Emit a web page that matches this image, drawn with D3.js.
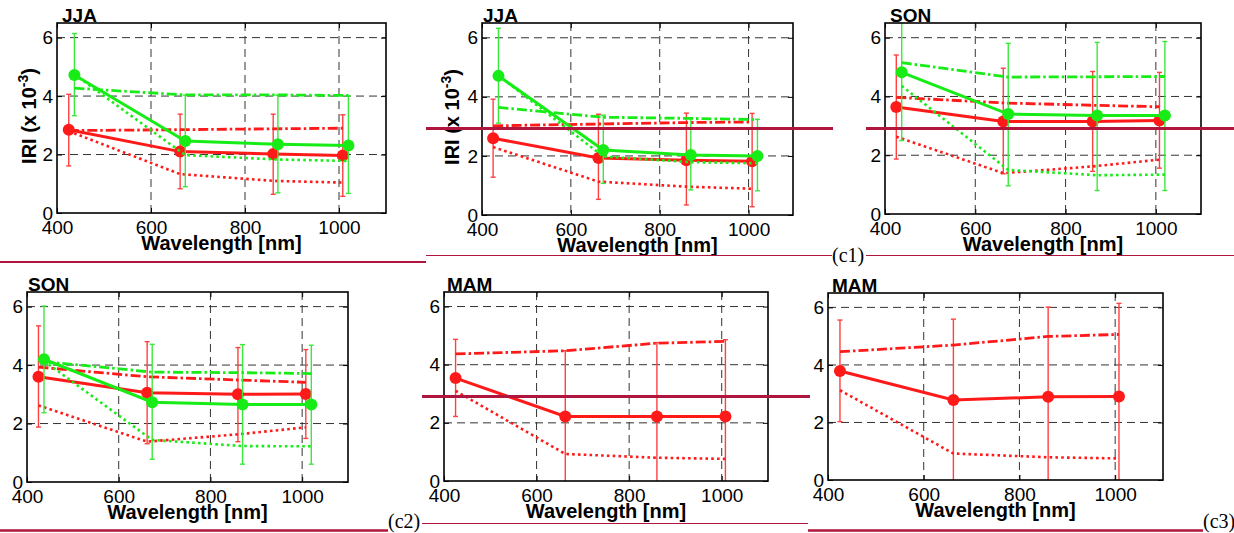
<!DOCTYPE html>
<html>
<head>
<meta charset="utf-8">
<script src="https://cdn.jsdelivr.net/npm/d3@7"></script>
<style>
html,body{margin:0;padding:0;background:#fff;}
svg{display:block;}
</style>
</head>
<body>
<svg id="chart" width="1234" height="533"></svg>
<script>
// ---------------- DATA ----------------
const panelTitles = ["JJA", "JJA", "SON", "SON", "MAM", "MAM"];
const xTicks = [400, 600, 800, 1000];
const yTicks = [0, 2, 4, 6];
const xDomain = [400, 1100];
const yDomain = [0, 6.5];
const wlRed = [425, 662, 860, 1008];
const wlGreen = [437, 673, 870, 1020];
const caseLabels = ["(c1)", "(c2)", "(c3)"];
const xLabel = "Wavelength [nm]";

// Panel 1 (JJA)
const p1RedMean = [2.85, 2.10, 2.02, 1.97];
const p1RedDashDot = [2.82, 2.85, 2.88, 2.90];
const p1RedDotted = [2.80, 1.33, 1.10, 1.04];
const p1RedLow = [1.61, 0.83, 0.64, 0.57];
const p1RedHigh = [4.06, 3.38, 3.38, 3.36];
const p1GreenMean = [4.72, 2.46, 2.35, 2.31];
const p1GreenDashDot = [4.27, 4.04, 4.04, 4.02];
const p1GreenDotted = [4.74, 1.98, 1.83, 1.78];
const p1GreenLow = [3.33, 0.90, 0.69, 0.67];
const p1GreenHigh = [6.14, 4.03, 4.03, 4.01];

// Panel 2 (JJA)
const p2RedMean = [2.60, 1.93, 1.85, 1.82];
const p2RedDashDot = [3.02, 3.08, 3.13, 3.15];
const p2RedDotted = [2.30, 1.13, 0.96, 0.89];
const p2RedLow = [1.28, 0.53, 0.34, 0.28];
const p2RedHigh = [3.92, 3.41, 3.45, 3.44];
const p2GreenMean = [4.71, 2.20, 2.03, 2.00];
const p2GreenDashDot = [3.64, 3.31, 3.27, 3.23];
const p2GreenDotted = [4.72, 1.98, 1.79, 1.75];
const p2GreenLow = [3.11, 1.07, 0.85, 0.82];
const p2GreenHigh = [6.32, 3.38, 3.27, 3.24];

// Panel 3 (SON)
const p3RedMean = [3.64, 3.15, 3.15, 3.18];
const p3RedDashDot = [3.97, 3.78, 3.70, 3.65];
const p3RedDotted = [2.63, 1.39, 1.62, 1.85];
const p3RedLow = [1.87, 1.37, 1.45, 1.56];
const p3RedHigh = [5.41, 4.96, 4.85, 4.82];
const p3GreenMean = [4.82, 3.40, 3.35, 3.35];
const p3GreenDashDot = [5.15, 4.66, 4.67, 4.68];
const p3GreenDotted = [4.36, 1.50, 1.32, 1.34];
const p3GreenLow = [2.50, 0.96, 0.80, 0.80];
const p3GreenHigh = [7.10, 5.81, 5.84, 5.87];

// Panel 4 (SON)
const p4RedMean = [3.60, 3.05, 3.00, 3.01];
const p4RedDashDot = [3.93, 3.60, 3.49, 3.41];
const p4RedDotted = [2.62, 1.38, 1.63, 1.87];
const p4RedLow = [1.88, 1.31, 1.38, 1.49];
const p4RedHigh = [5.34, 4.80, 4.60, 4.53];
const p4GreenMean = [4.20, 2.73, 2.65, 2.65];
const p4GreenDashDot = [4.12, 3.76, 3.74, 3.71];
const p4GreenDotted = [4.14, 1.44, 1.23, 1.22];
const p4GreenLow = [2.37, 0.78, 0.61, 0.61];
const p4GreenHigh = [6.02, 4.71, 4.70, 4.68];

// Panel 5 (MAM)
const p5RedMean = [3.54, 2.22, 2.22, 2.22];
const p5RedDashDot = [4.37, 4.48, 4.74, 4.80];
const p5RedDotted = [3.10, 0.93, 0.80, 0.76];
const p5RedLow = [2.22, -0.04, -0.32, -0.42];
const p5RedHigh = [4.87, 4.48, 4.76, 4.86];

// Panel 6 (MAM)
const p6RedMean = [3.79, 2.78, 2.89, 2.90];
const p6RedDashDot = [4.46, 4.69, 4.99, 5.06];
const p6RedDotted = [3.12, 0.92, 0.79, 0.75];
const p6RedLow = [2.03, -0.03, -0.23, -0.34];
const p6RedHigh = [5.56, 5.59, 6.01, 6.14];

// ---------------- BUILD ----------------
function series(mean, dashdot, dotted, low, high) {
  return {mean, dashdot, dotted, low, high};
}
const panelData = [
  {red: series(p1RedMean, p1RedDashDot, p1RedDotted, p1RedLow, p1RedHigh),
   green: series(p1GreenMean, p1GreenDashDot, p1GreenDotted, p1GreenLow, p1GreenHigh)},
  {red: series(p2RedMean, p2RedDashDot, p2RedDotted, p2RedLow, p2RedHigh),
   green: series(p2GreenMean, p2GreenDashDot, p2GreenDotted, p2GreenLow, p2GreenHigh)},
  {red: series(p3RedMean, p3RedDashDot, p3RedDotted, p3RedLow, p3RedHigh),
   green: series(p3GreenMean, p3GreenDashDot, p3GreenDotted, p3GreenLow, p3GreenHigh)},
  {red: series(p4RedMean, p4RedDashDot, p4RedDotted, p4RedLow, p4RedHigh),
   green: series(p4GreenMean, p4GreenDashDot, p4GreenDotted, p4GreenLow, p4GreenHigh)},
  {red: series(p5RedMean, p5RedDashDot, p5RedDotted, p5RedLow, p5RedHigh), green: null},
  {red: series(p6RedMean, p6RedDashDot, p6RedDotted, p6RedLow, p6RedHigh), green: null}
];

// layout (pixel boxes of each axes)
const layout = [
  {L: 57,  R: 386,  T: 23,  B: 213, tdx: 5, ylab: 36},
  {L: 482, R: 793,  T: 23,  B: 215, tdx: 1, ylab: 459},
  {L: 885, R: 1201, T: 23,  B: 214, tdx: 5, ylab: null},
  {L: 27,  R: 348,  T: 292, B: 482, tdx: 1, ylab: null},
  {L: 444, R: 768,  T: 292, B: 481, tdx: 3, ylab: null},
  {L: 828, R: 1163, T: 293, B: 480, tdx: 4, ylab: null}
];

const RED = "#ff1a1a", RED_ERR = "#ff4040";
const GREEN = "#17ec17", GREEN_ERR = "#3be83b";
const CRIMSON = "#b0153d";
const SANS = "'Liberation Sans', Arial, Helvetica, sans-serif";
const SERIF = "'Liberation Serif', 'Times New Roman', serif";

const svg = d3.select("#chart");
svg.append("rect").attr("width", 1234).attr("height", 533).attr("fill", "#fff");

panelData.forEach((pd, i) => {
  const lay = layout[i];
  const x = d3.scaleLinear().domain(xDomain).range([lay.L, lay.R]);
  const y = d3.scaleLinear().domain(yDomain).range([lay.B, lay.T]);
  const g = svg.append("g");
  const clipId = "clip" + i;
  g.append("clipPath").attr("id", clipId).append("rect")
    .attr("x", lay.L).attr("y", lay.T).attr("width", lay.R - lay.L).attr("height", lay.B - lay.T);

  g.append("rect").attr("x", lay.L).attr("y", lay.T).attr("width", lay.R - lay.L)
    .attr("height", lay.B - lay.T).attr("fill", "#fff");

  // grid
  const grid = g.append("g").attr("stroke", "#333").attr("stroke-width", 1)
    .attr("stroke-dasharray", "8,5").attr("fill", "none");
  xTicks.filter(t => t > xDomain[0]).forEach(t => {
    grid.append("line").attr("x1", x(t)).attr("x2", x(t)).attr("y1", lay.T).attr("y2", lay.B);
  });
  yTicks.filter(t => t > yDomain[0]).forEach(t => {
    grid.append("line").attr("x1", lay.L).attr("x2", lay.R).attr("y1", y(t)).attr("y2", y(t));
  });

  // axes via d3 (inward ticks)
  const xAxis = d3.axisBottom(x).tickValues(xTicks).tickSize(-5).tickPadding(7).tickFormat(d3.format("d"));
  const yAxis = d3.axisLeft(y).tickValues(yTicks).tickSize(-5).tickPadding(4).tickFormat(d3.format("d"));
  const xa = g.append("g").attr("transform", `translate(0,${lay.B})`).call(xAxis);
  const ya = g.append("g").attr("transform", `translate(${lay.L},0)`).call(yAxis);
  [xa, ya].forEach(a => {
    a.select(".domain").remove();
    a.selectAll(".tick line").attr("stroke", "#000").attr("stroke-width", 1);
    a.selectAll(".tick text").attr("font-family", SANS).attr("font-size", 19).attr("fill", "#000");
  });
  xa.selectAll(".tick text").attr("dy", null).attr("y", 20.5);
  const xa2 = g.append("g").attr("transform", `translate(0,${lay.T})`)
    .call(d3.axisTop(x).tickValues(xTicks).tickSize(-5).tickFormat(""));
  const ya2 = g.append("g").attr("transform", `translate(${lay.R},0)`)
    .call(d3.axisRight(y).tickValues(yTicks).tickSize(-5).tickFormat(""));
  [xa2, ya2].forEach(a => { a.select(".domain").remove(); a.selectAll(".tick line").attr("stroke", "#000"); });

  // data
  const plot = g.append("g").attr("clip-path", `url(#${clipId})`);
  const drawSeries = (s, wl, color, errColor) => {
    const pts = arr => arr.map((v, k) => [wl[k], v]);
    const line = d3.line().x(d => x(d[0])).y(d => y(d[1]));
    const eb = plot.append("g").attr("stroke", errColor).attr("stroke-width", 1.4);
    wl.forEach((w, k) => {
      const cx = x(w);
      eb.append("line").attr("x1", cx).attr("x2", cx).attr("y1", y(s.low[k])).attr("y2", y(s.high[k]));
      eb.append("line").attr("x1", cx - 2.5).attr("x2", cx + 2.5).attr("y1", y(s.low[k])).attr("y2", y(s.low[k]));
      eb.append("line").attr("x1", cx - 2.5).attr("x2", cx + 2.5).attr("y1", y(s.high[k])).attr("y2", y(s.high[k]));
    });
    plot.append("path").attr("d", line(pts(s.dotted))).attr("fill", "none").attr("stroke", color)
      .attr("stroke-width", 2.6).attr("stroke-dasharray", "2.6,3.2");
    plot.append("path").attr("d", line(pts(s.dashdot))).attr("fill", "none").attr("stroke", color)
      .attr("stroke-width", 2.8).attr("stroke-dasharray", "10,3,2.5,3");
    plot.append("path").attr("d", line(pts(s.mean))).attr("fill", "none").attr("stroke", color)
      .attr("stroke-width", 3);
    plot.append("g").selectAll("circle").data(pts(s.mean)).join("circle")
      .attr("cx", d => x(d[0])).attr("cy", d => y(d[1])).attr("r", 6).attr("fill", color);
  };
  drawSeries(pd.red, wlRed, RED, RED_ERR);
  if (pd.green) drawSeries(pd.green, wlGreen, GREEN, GREEN_ERR);

  // box
  g.append("rect").attr("x", lay.L).attr("y", lay.T).attr("width", lay.R - lay.L)
    .attr("height", lay.B - lay.T).attr("fill", "none").attr("stroke", "#000").attr("stroke-width", 1.6);

  // title
  g.append("text").attr("x", lay.L + lay.tdx).attr("y", lay.T - 1)
    .attr("font-family", SANS).attr("font-weight", "bold").attr("font-size", 19).text(panelTitles[i]);

  // x label
  g.append("text").attr("x", (lay.L + lay.R) / 2).attr("y", lay.B + 37).attr("text-anchor", "middle")
    .attr("font-family", SANS).attr("font-weight", "bold").attr("font-size", 20).text(xLabel);

  // y label
  if (lay.ylab !== null) {
    const yl = g.append("text")
      .attr("transform", `translate(${lay.ylab},${(lay.T + lay.B) / 2 - 2}) rotate(-90)`)
      .attr("text-anchor", "middle").attr("font-family", SANS).attr("font-weight", "bold").attr("font-size", 20);
    yl.append("tspan").text("IRI (x 10");
    yl.append("tspan").attr("dy", -8).attr("font-size", 14).text("-3");
    yl.append("tspan").attr("dy", 8).text(")");
  }
});

// ---------------- document decorations ----------------
const deco = svg.append("g").attr("stroke", CRIMSON).attr("fill", "none");
deco.append("line").attr("x1", 0).attr("x2", 426).attr("y1", 262).attr("y2", 262).attr("stroke-width", 2);
deco.append("line").attr("x1", 426).attr("x2", 832).attr("y1", 255.5).attr("y2", 255.5).attr("stroke-width", 1);
deco.append("line").attr("x1", 866).attr("x2", 1234).attr("y1", 255.5).attr("y2", 255.5).attr("stroke-width", 1);
deco.append("line").attr("x1", 426).attr("x2", 833).attr("y1", 128.5).attr("y2", 128.5).attr("stroke-width", 3.2);
deco.append("line").attr("x1", 866).attr("x2", 1234).attr("y1", 128.5).attr("y2", 128.5).attr("stroke-width", 3.2);
deco.append("line").attr("x1", 0).attr("x2", 388).attr("y1", 530.5).attr("y2", 530.5).attr("stroke-width", 2.4);
deco.append("line").attr("x1", 422).attr("x2", 808).attr("y1", 523.5).attr("y2", 523.5).attr("stroke-width", 1);
deco.append("line").attr("x1", 808).attr("x2", 1203).attr("y1", 530.5).attr("y2", 530.5).attr("stroke-width", 2.4);
deco.append("line").attr("x1", 422).attr("x2", 810).attr("y1", 396.5).attr("y2", 396.5).attr("stroke-width", 3.2);

const lbl = svg.append("g").attr("font-family", SERIF).attr("font-size", 20).attr("fill", "#000");
lbl.append("text").attr("x", 832).attr("y", 262).text(caseLabels[0]);
lbl.append("text").attr("x", 388).attr("y", 528).text(caseLabels[1]);
lbl.append("text").attr("x", 1203).attr("y", 528).text(caseLabels[2]);
</script>
</body>
</html>
